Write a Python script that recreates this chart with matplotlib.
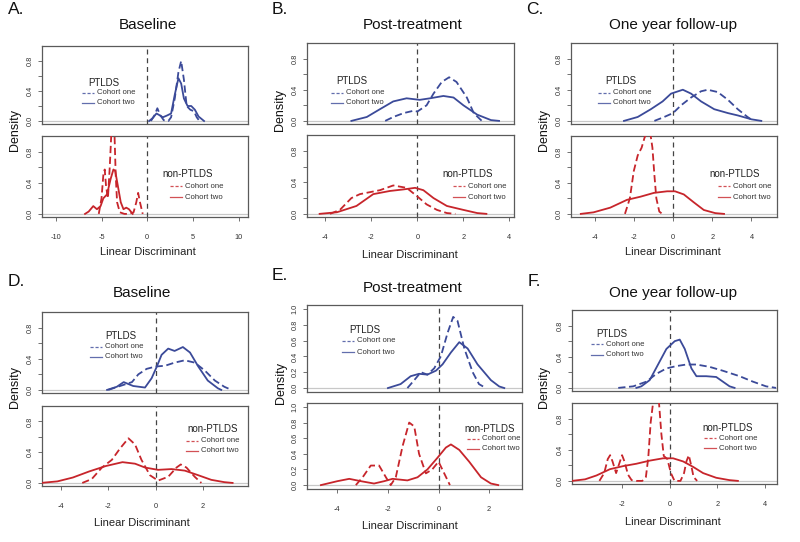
import matplotlib
matplotlib.use("Agg")
import matplotlib.pyplot as plt
from matplotlib.lines import Line2D

plt.rcParams['font.family'] = ['Liberation Sans', 'DejaVu Sans']

# density curves (x = linear discriminant, y = density)
# panel A, baseline
a_top_one_x = [0.4, 0.8, 1.1, 1.4, 1.8, 2.3, 2.6, 3.0, 3.4, 3.7, 4.0, 4.3, 4.7, 5.1, 5.4, 5.7]
a_top_one_y = [0.0, 0.08, 0.17, 0.08, 0.01, 0.0, 0.05, 0.3, 0.65, 0.8, 0.55, 0.2, 0.15, 0.13, 0.05, 0.0]
a_top_two_x = [0.2, 0.6, 1.0, 1.3, 1.7, 2.1, 2.6, 3.0, 3.4, 3.7, 4.0, 4.4, 4.8, 5.2, 5.6, 6.2]
a_top_two_y = [0.0, 0.04, 0.1, 0.08, 0.05, 0.07, 0.1, 0.35, 0.57, 0.5, 0.3, 0.2, 0.2, 0.15, 0.06, 0.0]
a_bot_one_x = [-5.3, -5.0, -4.8, -4.65, -4.5, -4.3, -4.1, -3.9, -3.75, -3.6, -3.45, -3.3, -3.0, -2.5,
               -2.0, -1.5, -1.2, -1.0, -0.8, -0.5]
a_bot_one_y = [0.0, 0.2, 0.5, 0.57, 0.35, 0.2, 0.6, 1.1, 1.3, 1.1, 0.5, 0.15, 0.02, 0.0,
               0.0, 0.02, 0.15, 0.27, 0.15, 0.0]
a_bot_two_x = [-6.8, -6.4, -5.9, -5.5, -5.1, -4.8, -4.4, -4.0, -3.7, -3.5, -3.2, -2.9, -2.6, -2.3, -2.0, -1.6]
a_bot_two_y = [0.0, 0.03, 0.1, 0.06, 0.1, 0.2, 0.25, 0.45, 0.57, 0.55, 0.35, 0.15, 0.06, 0.08, 0.06, 0.0]

# panel B, post-treatment
b_top_one_x = [-1.4, -1.05, -0.6, -0.17, 0.0, 0.4, 0.7, 1.06, 1.38, 1.7, 2.15, 2.45, 2.8]
b_top_one_y = [0.0, 0.05, 0.1, 0.13, 0.12, 0.2, 0.35, 0.5, 0.56, 0.5, 0.3, 0.1, 0.0]
b_top_two_x = [-2.87, -2.2, -1.63, -1.05, -0.47, 0.1, 0.55, 1.13, 1.57, 2.0, 2.6, 3.2, 3.55]
b_top_two_y = [0.0, 0.05, 0.15, 0.25, 0.29, 0.27, 0.29, 0.32, 0.3, 0.2, 0.08, 0.01, 0.0]
b_bot_one_x = [-3.8, -3.37, -2.87, -2.5, -1.63, -1.05, -0.47, 0.0, 0.4, 0.85, 1.28, 1.65]
b_bot_one_y = [0.0, 0.05, 0.2, 0.25, 0.3, 0.36, 0.33, 0.22, 0.12, 0.05, 0.01, 0.0]
b_bot_two_x = [-4.25, -3.5, -2.65, -1.92, -1.2, -0.6, -0.1, 0.26, 0.7, 1.28, 2.0, 2.6, 3.0]
b_bot_two_y = [0.0, 0.02, 0.1, 0.25, 0.29, 0.31, 0.33, 0.3, 0.2, 0.1, 0.05, 0.01, 0.0]

# panel C, one year follow-up
c_top_one_x = [-0.95, -0.45, 0.0, 0.41, 0.92, 1.43, 1.77, 2.28, 2.8, 3.3, 3.8, 4.1]
c_top_one_y = [0.0, 0.05, 0.1, 0.2, 0.3, 0.38, 0.4, 0.37, 0.27, 0.15, 0.05, 0.0]
c_top_two_x = [-2.5, -1.8, -1.13, -0.53, -0.1, 0.5, 0.92, 1.43, 2.1, 2.8, 3.3, 4.0, 4.5]
c_top_two_y = [0.0, 0.05, 0.15, 0.25, 0.35, 0.4, 0.35, 0.25, 0.15, 0.1, 0.07, 0.02, 0.0]
c_bot_one_x = [-2.45, -2.2, -2.0, -1.8, -1.6, -1.45, -1.3, -1.15, -1.05, -0.95, -0.85, -0.7, -0.55]
c_bot_one_y = [0.0, 0.2, 0.55, 0.75, 0.85, 0.98, 1.05, 1.02, 0.85, 0.5, 0.2, 0.03, 0.0]
c_bot_two_x = [-4.7, -4.05, -3.2, -2.35, -1.67, -0.97, -0.3, 0.1, 0.55, 1.05, 1.57, 2.15, 2.6]
c_bot_two_y = [0.0, 0.02, 0.08, 0.18, 0.22, 0.27, 0.29, 0.29, 0.25, 0.15, 0.05, 0.01, 0.0]

# panel D, baseline
d_top_one_x = [-2.0, -1.3, -1.0, -0.73, -0.38, 0.0, 0.4, 0.8, 1.23, 1.65, 2.07, 2.5, 2.9, 3.2]
d_top_one_y = [0.0, 0.07, 0.1, 0.2, 0.27, 0.3, 0.31, 0.35, 0.38, 0.35, 0.25, 0.12, 0.04, 0.0]
d_top_two_x = [-2.05, -1.64, -1.35, -0.95, -0.45, -0.17, 0.05, 0.25, 0.53, 0.8, 1.15, 1.45, 1.8, 2.2,
               2.63, 2.77]
d_top_two_y = [0.0, 0.04, 0.1, 0.05, 0.03, 0.15, 0.3, 0.45, 0.53, 0.5, 0.55, 0.48, 0.3, 0.12,
               0.02, 0.0]
d_bot_one_x = [-3.1, -2.7, -2.27, -1.85, -1.5, -1.15, -0.87, -0.6, -0.24, 0.1, 0.53, 0.88, 1.06,
               1.3, 1.65, 1.93]
d_bot_one_y = [0.0, 0.05, 0.2, 0.3, 0.45, 0.58, 0.5, 0.3, 0.1, 0.03, 0.08, 0.2, 0.24,
               0.2, 0.08, 0.0]
d_bot_two_x = [-4.85, -4.15, -3.5, -2.8, -2.1, -1.4, -0.87, -0.45, 0.1, 0.67, 1.23, 1.8, 2.35, 2.9, 3.25]
d_bot_two_y = [0.0, 0.02, 0.07, 0.15, 0.22, 0.27, 0.25, 0.2, 0.17, 0.18, 0.16, 0.1, 0.04, 0.01, 0.0]

# panel E, post-treatment
e_top_one_x = [-1.23, -0.96, -0.7, -0.44, -0.17, 0.09, 0.36, 0.58, 0.75, 1.02, 1.35, 1.6, 1.87]
e_top_one_y = [0.0, 0.1, 0.2, 0.17, 0.25, 0.4, 0.7, 0.9, 0.85, 0.5, 0.2, 0.05, 0.0]
e_top_two_x = [-2.0, -1.5, -1.1, -0.77, -0.44, -0.1, 0.16, 0.49, 0.82, 1.15, 1.54, 2.07, 2.4, 2.6]
e_top_two_y = [0.0, 0.05, 0.15, 0.18, 0.17, 0.22, 0.3, 0.45, 0.58, 0.5, 0.3, 0.1, 0.02, 0.0]
e_bot_one_x = [-3.27, -3.0, -2.68, -2.35, -2.08, -1.89, -1.69, -1.42, -1.16, -0.96, -0.77, -0.5,
               -0.25, 0.0, 0.3, 0.45]
e_bot_one_y = [0.0, 0.1, 0.25, 0.25, 0.1, 0.0, 0.1, 0.5, 0.8, 0.75, 0.4, 0.15,
               0.2, 0.3, 0.1, 0.0]
e_bot_two_x = [-4.65, -4.0, -3.53, -3.07, -2.55, -2.15, -1.82, -1.23, -0.83, -0.44, -0.04, 0.29,
               0.49, 0.82, 1.21, 1.68, 2.07, 2.36]
e_bot_two_y = [0.0, 0.05, 0.08, 0.05, 0.02, 0.05, 0.08, 0.06, 0.1, 0.2, 0.35, 0.48,
               0.52, 0.45, 0.3, 0.1, 0.02, 0.0]

# panel F, one year follow-up
f_top_one_x = [-2.16, -1.53, -0.98, -0.56, -0.14, 0.28, 0.7, 1.12, 1.67, 2.23, 2.93, 3.49, 4.04, 4.46]
f_top_one_y = [0.0, 0.02, 0.08, 0.18, 0.25, 0.28, 0.3, 0.3, 0.27, 0.22, 0.15, 0.08, 0.02, 0.0]
f_top_two_x = [-1.4, -1.19, -0.84, -0.49, -0.14, 0.21, 0.42, 0.63, 0.91, 1.12, 1.53, 1.95, 2.23,
               2.51, 2.72]
f_top_two_y = [0.0, 0.02, 0.1, 0.3, 0.5, 0.6, 0.62, 0.5, 0.25, 0.15, 0.15, 0.14, 0.08,
               0.02, 0.0]
f_bot_one_x = [-2.95, -2.75, -2.6, -2.5, -2.4, -2.25, -2.12, -2.0, -1.9, -1.75, -1.6, -1.4, -1.15,
               -1.0, -0.9, -0.8, -0.7, -0.55, -0.45, -0.35, -0.25, -0.1, 0.05, 0.2, 0.45, 0.6,
               0.7, 0.8, 0.9, 1.0, 1.15]
f_bot_one_y = [0.0, 0.1, 0.28, 0.33, 0.25, 0.1, 0.22, 0.33, 0.25, 0.08, 0.01, 0.0, 0.0,
               0.05, 0.3, 0.75, 1.0, 1.3, 1.0, 0.6, 0.32, 0.28, 0.1, 0.0, 0.0, 0.1,
               0.25, 0.33, 0.2, 0.05, 0.0]
f_bot_two_x = [-4.1, -3.55, -3.07, -2.51, -1.95, -1.4, -0.84, -0.28, 0.14, 0.56, 0.98, 1.4, 1.95,
               2.5, 2.86]
f_bot_two_y = [0.0, 0.02, 0.07, 0.15, 0.19, 0.22, 0.26, 0.29, 0.29, 0.25, 0.18, 0.1, 0.04,
               0.01, 0.0]

BLUE = '#3b4a99'
RED = '#c7252b'
AX = '#5a5a5a'
W, H = 800, 542

fig = plt.figure(figsize=(8, 5.42), dpi=100)
fig.patch.set_facecolor('white')


def rect(l, r, t, b):
    return [l / W, 1 - b / H, (r - l) / W, (b - t) / H]


def fxy(x, y):
    return x / W, 1 - y / H


def style_axes(ax, xlim, ylim, yticks, ylabels, xticks=None):
    ax.set_xlim(xlim)
    ax.set_ylim(ylim)
    for s in ax.spines.values():
        s.set_color(AX)
        s.set_linewidth(0.9)
    ax.set_yticks(yticks)
    ax.set_yticklabels(ylabels, rotation=90, va='center')
    ax.tick_params(direction='out', length=3, width=0.6, color=AX,
                   labelsize=5.3, labelcolor='#333333', pad=3)
    if xticks is None:
        ax.set_xticks([])
    else:
        ax.set_xticks(xticks)
        ax.set_xticklabels([str(t) for t in xticks])
        ax.tick_params(axis='x', pad=9)
    ax.axhline(0, color='#c8c8c8', lw=0.9, zorder=1)
    ax.axvline(0, color='#444444', lw=0.9, ls=(0, (4, 3)), zorder=1)


def legend(title, tx, ty, lx, r1, r2, color):
    fig.text(*fxy(tx, ty), title, fontsize=7, ha='center', va='center', color='#222222')
    for yy, lab, ls in [(r1, 'Cohort one', (0, (2.5, 1.5))), (r2, 'Cohort two', '-')]:
        x0, y0 = fxy(lx, yy)
        x1, _ = fxy(lx + 12, yy)
        fig.add_artist(Line2D([x0, x1], [y0, y0], color=color, lw=0.9, ls=ls, alpha=0.8))
        fig.text(*fxy(lx + 15, yy), lab, fontsize=5.6, ha='left', va='center', color='#333333')


def panel(letter, title, lx_, tx_, t_top, t_bot, b_top, b_bot, l, r,
          xlim, xticks, ylim, yticks, ylabels, curves, legs, texts):
    at = fig.add_axes(rect(l, r, t_top, t_bot))
    ab = fig.add_axes(rect(l, r, b_top, b_bot))
    style_axes(at, xlim, ylim, yticks, ylabels)
    style_axes(ab, xlim, ylim, yticks, ylabels, xticks)
    (tox, toy, ttx, tty, box, boy, btx, bty) = curves
    dash = (0, (4, 2))
    at.plot(tox, toy, color=BLUE, lw=1.3, ls=dash, zorder=3)
    at.plot(ttx, tty, color=BLUE, lw=1.3, zorder=3)
    ab.plot(box, boy, color=RED, lw=1.3, ls=dash, zorder=3)
    ab.plot(btx, bty, color=RED, lw=1.3, zorder=3)
    legend('PTLDS', *legs[0], BLUE)
    legend('non-PTLDS', *legs[1], RED)
    # panel letter, title, y label, x label
    fig.text(*fxy(*lx_), letter, fontsize=12.5, ha='left', va='center', color='#111111')
    fig.text(*fxy(*tx_), title, fontsize=11, ha='center', va='center', color='#111111')
    fig.text(*fxy(*texts[0]), 'Density', fontsize=9, rotation=90, ha='center', va='center',
             color='#111111')
    fig.text(*fxy(*texts[1]), 'Linear Discriminant', fontsize=8, ha='center', va='center',
             color='#222222')


Y08 = [0, 0.2, 0.4, 0.6, 0.8]
L08 = ['0.0', '', '0.4', '', '0.8']

panel('A.', 'Baseline', (8, 10), (148, 25), 46, 124, 136, 217, 42, 248,
      (-11.5, 11), [-10, -5, 0, 5, 10], (-0.04, 1.0), Y08, L08,
      (a_top_one_x, a_top_one_y, a_top_two_x, a_top_two_y,
       a_bot_one_x, a_bot_one_y, a_bot_two_x, a_bot_two_y),
      [(104, 83, 82, 93, 103), (188, 174, 170, 186, 197)],
      [(15, 130), (148, 252)])

panel('B.', 'Post-treatment', (272, 10), (413, 25), 43, 124, 135, 217, 307, 514,
      (-4.8, 4.2), [-4, -2, 0, 2, 4], (-0.04, 1.0), Y08, L08,
      (b_top_one_x, b_top_one_y, b_top_two_x, b_top_two_y,
       b_bot_one_x, b_bot_one_y, b_bot_two_x, b_bot_two_y),
      [(352, 81, 331, 93, 103), (468, 174, 453, 186, 197)],
      [(280, 110), (410, 255)])

panel('C.', 'One year follow-up', (526, 10), (673, 25), 43, 124, 136, 217, 571, 777,
      (-5.2, 5.3), [-4, -2, 0, 2, 4], (-0.04, 1.0), Y08, L08,
      (c_top_one_x, c_top_one_y, c_top_two_x, c_top_two_y,
       c_bot_one_x, c_bot_one_y, c_bot_two_x, c_bot_two_y),
      [(621, 81, 598, 93, 103), (735, 174, 718, 186, 197)],
      [(544, 130), (673, 252)])

panel('D.', 'Baseline', (8, 281), (142, 293), 312, 393, 406, 486, 42, 248,
      (-4.8, 3.9), [-4, -2, 0, 2], (-0.04, 1.0), Y08, L08,
      (d_top_one_x, d_top_one_y, d_top_two_x, d_top_two_y,
       d_bot_one_x, d_bot_one_y, d_bot_two_x, d_bot_two_y),
      [(121, 336, 90, 347, 357), (213, 429, 186, 441, 451)],
      [(15, 387), (142, 523)])

panel('E.', 'Post-treatment', (272, 276), (413, 288), 305, 392, 403, 489, 307, 522,
      (-5.2, 3.3), [-4, -2, 0, 2], (-0.05, 1.05),
      [0, 0.2, 0.4, 0.6, 0.8, 1.0], ['0.0', '0.2', '0.4', '0.6', '0.8', '1.0'],
      (e_top_one_x, e_top_one_y, e_top_two_x, e_top_two_y,
       e_bot_one_x, e_bot_one_y, e_bot_two_x, e_bot_two_y),
      [(365, 330, 342, 341, 352), (490, 429, 467, 439, 449)],
      [(281, 383), (410, 526)])

panel('F.', 'One year follow-up', (528, 281), (673, 293), 310, 391, 403, 484, 572, 777,
      (-4.1, 4.5), [-2, 0, 2, 4], (-0.04, 1.0), Y08, L08,
      (f_top_one_x, f_top_one_y, f_top_two_x, f_top_two_y,
       f_bot_one_x, f_bot_one_y, f_bot_two_x, f_bot_two_y),
      [(612, 334, 591, 344, 355), (728, 428, 704, 438, 448)],
      [(544, 387), (673, 522)])

fig.savefig('out.png', dpi=100, facecolor='white')
